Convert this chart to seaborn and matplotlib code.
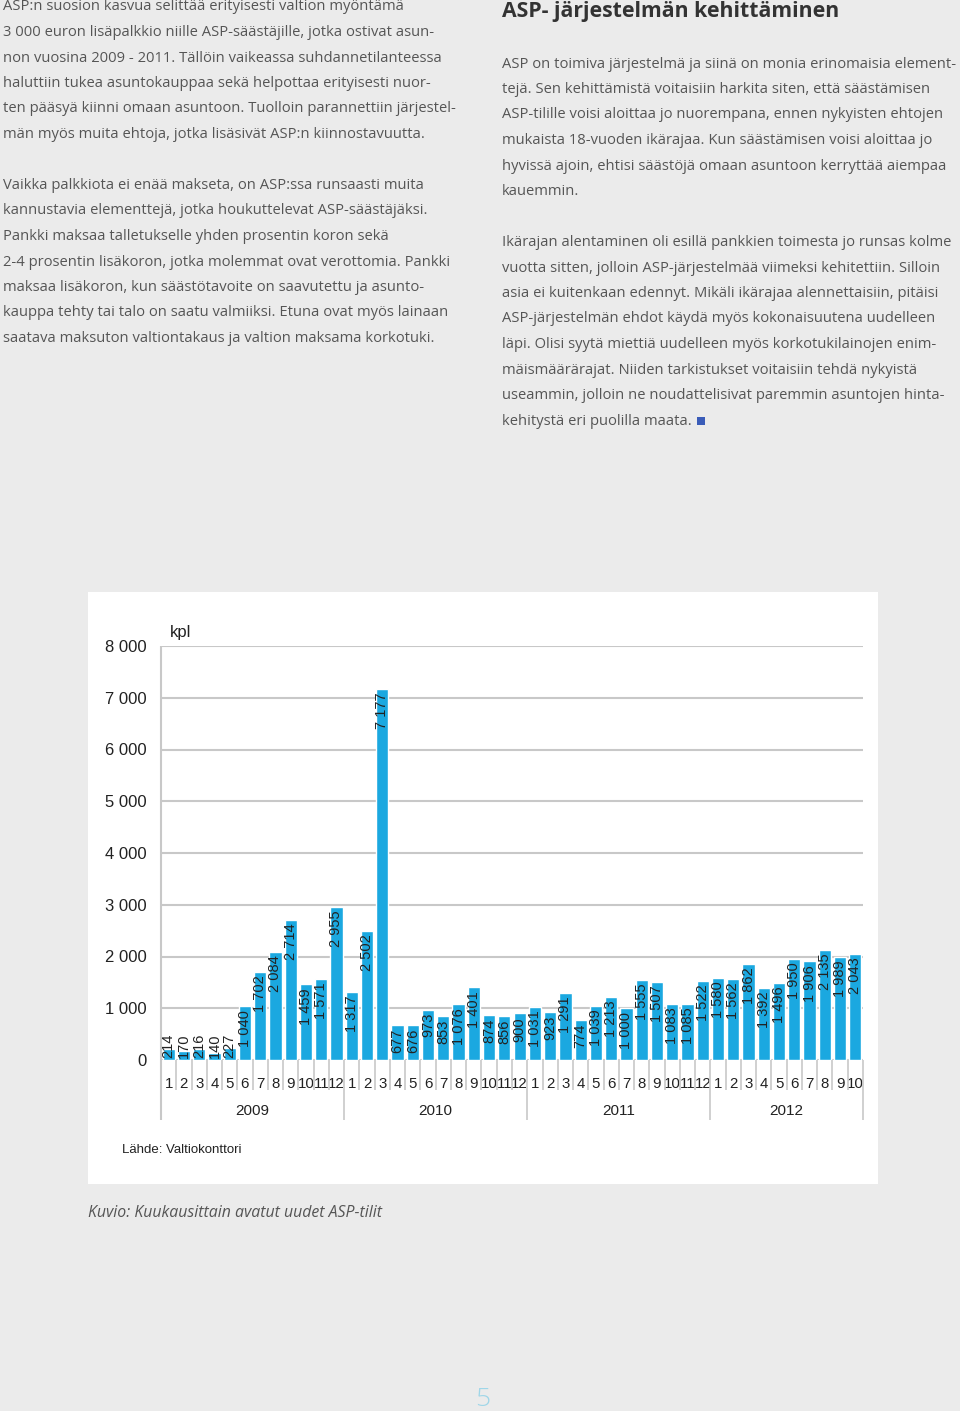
import pandas as pd
import matplotlib.pyplot as plt
import seaborn as sns
from matplotlib.patches import Rectangle

# kuukausittain avatut uudet ASP-tilit (kpl)
vuodet = ['2009', '2010', '2011', '2012']
kk_2009 = [214, 170, 216, 140, 227, 1040, 1702, 2084, 2714, 1459, 1571, 2955]
kk_2010 = [1317, 2502, 7177, 677, 676, 973, 853, 1076, 1401, 874, 856, 900]
kk_2011 = [1031, 923, 1291, 774, 1039, 1213, 1000, 1555, 1507, 1083, 1085, 1522]
kk_2012 = [1580, 1562, 1862, 1392, 1496, 1950, 1906, 2135, 1989, 2043]
y_ticks = [0, 1000, 2000, 3000, 4000, 5000, 6000, 7000, 8000]

vasen_palsta = [
    "ASP:n suosion kasvua selittää erityisesti valtion myöntämä",
    "3 000 euron lisäpalkkio niille ASP-säästäjille, jotka ostivat asun-",
    "non vuosina 2009 - 2011. Tällöin vaikeassa suhdannetilanteessa",
    "haluttiin tukea asuntokauppaa sekä helpottaa erityisesti nuor-",
    "ten pääsyä kiinni omaan asuntoon. Tuolloin parannettiin järjestel-",
    "män myös muita ehtoja, jotka lisäsivät ASP:n kiinnostavuutta.",
    "",
    "Vaikka palkkiota ei enää makseta, on ASP:ssa runsaasti muita",
    "kannustavia elementtejä, jotka houkuttelevat ASP-säästäjäksi.",
    "Pankki maksaa talletukselle yhden prosentin koron sekä",
    "2-4 prosentin lisäkoron, jotka molemmat ovat verottomia. Pankki",
    "maksaa lisäkoron, kun säästötavoite on saavutettu ja asunto-",
    "kauppa tehty tai talo on saatu valmiiksi. Etuna ovat myös lainaan",
    "saatava maksuton valtiontakaus ja valtion maksama korkotuki.",
]
otsikko = "ASP- järjestelmän kehittäminen"
oikea_palsta = [
    "ASP on toimiva järjestelmä ja siinä on monia erinomaisia element-",
    "tejä. Sen kehittämistä voitaisiin harkita siten, että säästämisen",
    "ASP-tilille voisi aloittaa jo nuorempana, ennen nykyisten ehtojen",
    "mukaista 18-vuoden ikärajaa. Kun säästämisen voisi aloittaa jo",
    "hyvissä ajoin, ehtisi säästöjä omaan asuntoon kerryttää aiempaa",
    "kauemmin.",
    "",
    "Ikärajan alentaminen oli esillä pankkien toimesta jo runsas kolme",
    "vuotta sitten, jolloin ASP-järjestelmää viimeksi kehitettiin. Silloin",
    "asia ei kuitenkaan edennyt. Mikäli ikärajaa alennettaisiin, pitäisi",
    "ASP-järjestelmän ehdot käydä myös kokonaisuutena uudelleen",
    "läpi. Olisi syytä miettiä uudelleen myös korkotukilainojen enim-",
    "mäismäärärajat. Niiden tarkistukset voitaisiin tehdä nykyistä",
    "useammin, jolloin ne noudattelisivat paremmin asuntojen hinta-",
    "kehitystä eri puolilla maata.",
]

W, H = 960, 1411
BG = '#ebebeb'
TEXT = '#555555'
BAR = '#1ba8e0'
GRID = '#c8c8c8'


def px(x, y):
    return x / W, 1 - y / H


rows = []
for vuosi, arvot in zip(vuodet, [kk_2009, kk_2010, kk_2011, kk_2012]):
    for kk, v in enumerate(arvot, start=1):
        rows.append({'vuosi': vuosi, 'kk': kk, 'key': f'{vuosi}-{kk}', 'tilit': v})
df = pd.DataFrame(rows)

sns.set_style('white')
plt.rcParams['font.family'] = ['Open Sans', 'DejaVu Sans']

fig = plt.figure(figsize=(W / 100, H / 100), dpi=100, facecolor=BG)

# page text
fs_body = 10.6
for i, line in enumerate(vasen_palsta):
    if line:
        fig.text(*px(3, 7 + i * 25.5), line, fontsize=fs_body, color=TEXT, va='center', ha='left')
fig.text(*px(502, 11), otsikko, fontsize=15.3, fontweight='bold', color='#333333', va='center', ha='left')
last = None
for i, line in enumerate(oikea_palsta):
    if line:
        last = fig.text(*px(502, 64 + i * 25.5), line, fontsize=fs_body, color=TEXT, va='center', ha='left')

# white chart panel
x0, y0 = px(88, 1184)
fig.patches.append(Rectangle((x0, y0), (878 - 88) / W, (1184 - 592) / H, transform=fig.transFigure,
                             facecolor='white', edgecolor='none', zorder=-1))

fig.text(*px(88, 1213), "Kuvio: Kuukausittain avatut uudet ASP-tilit", fontsize=11.4,
         style='italic', color=TEXT, va='center', ha='left')
fig.text(*px(483, 1400), "5", fontsize=19, fontweight='light', color='#9fd6e8', va='center', ha='center')

# chart axes
ax_l, ax_b = px(161, 1060)
ax_r, ax_t = px(863, 646)
ax = fig.add_axes([ax_l, ax_b, ax_r - ax_l, ax_t - ax_b])
ax.set_facecolor('none')

sns.barplot(data=df, x='key', y='tilit', color=BAR, saturation=1, width=0.8, ax=ax, zorder=3)

ax.set_ylim(0, 8000)
ax.set_xlim(-0.5, len(df) - 0.5)
ax.set_yticks(y_ticks, [f'{v:,}'.replace(',', ' ') for v in y_ticks])
ax.yaxis.grid(True, color=GRID, linewidth=1.5, zorder=0)
ax.set_axisbelow(True)
ax.tick_params(axis='y', length=3, width=1.5, color=GRID, pad=7, labelsize=12,
               labelfontfamily='Liberation Sans', labelcolor='#222222')
ax.set_xticks(range(len(df)), [str(k) for k in df['kk']])
ax.tick_params(axis='x', length=0, pad=12, labelsize=10.8, labelfontfamily='Liberation Sans',
               labelcolor='#222222')
for s in ax.spines.values():
    s.set_visible(False)
ax.set_xlabel('')
ax.set_ylabel('')

xt = ax.get_xaxis_transform()
ax.vlines([-0.5], -0.145, 1, transform=xt, clip_on=False, color=GRID, lw=1.5)
rajat = df.groupby('vuosi', sort=False).size().cumsum().tolist()
month_seps = [i + 0.5 for i in range(len(df) - 1) if (i + 1) not in rajat]
year_seps = [r - 0.5 for r in rajat]
ax.vlines(month_seps, -0.072, 0, transform=xt, clip_on=False, color=GRID, lw=1.2)
ax.vlines(year_seps, -0.145, 0, transform=xt, clip_on=False, color=GRID, lw=1.2)

start = 0
for vuosi, r in zip(vuodet, rajat):
    ax.text((start + r - 1) / 2, -0.123, vuosi, transform=xt, ha='center', va='center',
            fontsize=11, family='Liberation Sans', color='#222222')
    start = r

for i, v in enumerate(df['tilit']):
    lab = f'{v:,}'.replace(',', ' ')
    if v < 500:
        ax.annotate(lab, (i, 0), xytext=(0, 1.5), textcoords='offset points', rotation=90,
                    ha='center', va='bottom', fontsize=10.5, family='Liberation Sans', color='#222222',
                    zorder=4)
    else:
        ax.annotate(lab, (i, v), xytext=(0, -2.5), textcoords='offset points', rotation=90,
                    ha='center', va='top', fontsize=10.5, family='Liberation Sans', color='#222222',
                    zorder=4)

fig.text(*px(170, 632), "kpl", fontsize=12, family='Liberation Sans', color='#222222', va='center')
fig.text(*px(122, 1150), "Lähde: Valtiokonttori", fontsize=9.5, family='Liberation Sans',
         color='#222222', va='center')

# end mark right after the last line
fig.canvas.draw()
bb = last.get_window_extent()
fig.patches.append(Rectangle(((bb.x1 + 5) / W, px(0, 425)[1]), 8 / W, 8 / H, transform=fig.transFigure,
                             facecolor='#3a5cb8', edgecolor='none'))

fig.savefig('out.png', dpi=100, facecolor=BG)
